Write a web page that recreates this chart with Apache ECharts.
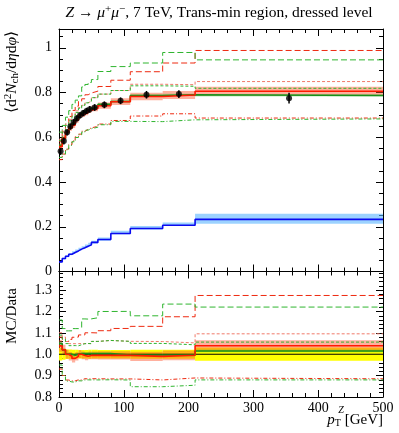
<!DOCTYPE html>
<html>
<head>
<meta charset="UTF-8">
<title>Z mumu Trans-min</title>
<script src="https://cdn.jsdelivr.net/npm/echarts@6.0.0/dist/echarts.min.js"></script>
<style>
  html, body { margin: 0; padding: 0; background: #fff; }
  #main { width: 399px; height: 433px; }
</style>
</head>
<body>
<div id="main"></div>
<script>
// bin edges in pT^Z [GeV]
var edges = [0, 5, 10, 15, 20, 25, 30, 35, 40, 45, 50, 60, 80, 110, 160, 210, 500];

// data
var dataVals = [0.537, 0.583, 0.622, 0.648, 0.667, 0.684, 0.698, 0.708, 0.718, 0.725, 0.733, 0.745, 0.763, 0.790, 0.793, 0.775];
var dataErr  = [0.016, 0.015, 0.014, 0.014, 0.014, 0.014, 0.014, 0.014, 0.014, 0.015, 0.015, 0.015, 0.015, 0.017, 0.017, 0.024];

// MC curves
var mcRed        = [0.558, 0.595, 0.622, 0.642, 0.654, 0.677, 0.698, 0.704, 0.711, 0.721, 0.729, 0.741, 0.759, 0.782, 0.789, 0.806];
var mcRedErr     = [0.015, 0.014, 0.013, 0.013, 0.013, 0.013, 0.013, 0.013, 0.013, 0.013, 0.013, 0.014, 0.015, 0.017, 0.018, 0.020];
var mcGreen      = [0.564, 0.595, 0.622, 0.648, 0.664, 0.684, 0.700, 0.710, 0.720, 0.727, 0.735, 0.747, 0.760, 0.787, 0.790, 0.787];
var mcGreenErr   = [0.005, 0.004, 0.004, 0.004, 0.004, 0.004, 0.004, 0.004, 0.004, 0.004, 0.004, 0.004, 0.004, 0.005, 0.005, 0.005];
var mcRedUp      = [0.580, 0.624, 0.659, 0.693, 0.720, 0.739, 0.761, 0.772, 0.790, 0.798, 0.806, 0.827, 0.855, 0.893, 0.932, 0.988];
var mcGreenUp    = [0.623, 0.653, 0.690, 0.719, 0.747, 0.766, 0.785, 0.825, 0.836, 0.845, 0.858, 0.894, 0.916, 0.932, 0.979, 0.946];
var mcRedMid     = [0.591, 0.630, 0.659, 0.680, 0.700, 0.718, 0.733, 0.743, 0.754, 0.761, 0.777, 0.793, 0.809, 0.837, 0.835, 0.849];
var mcGreenMid   = [0.585, 0.624, 0.653, 0.674, 0.694, 0.711, 0.729, 0.743, 0.754, 0.761, 0.777, 0.793, 0.809, 0.830, 0.828, 0.819];
var mcRedDown    = [0.500, 0.525, 0.547, 0.567, 0.584, 0.602, 0.614, 0.627, 0.635, 0.642, 0.649, 0.659, 0.675, 0.695, 0.705, 0.686];
var mcGreenDown  = [0.510, 0.525, 0.544, 0.564, 0.580, 0.599, 0.611, 0.623, 0.632, 0.638, 0.645, 0.656, 0.671, 0.670, 0.678, 0.682];
var mcBlue       = [0.043, 0.058, 0.068, 0.077, 0.085, 0.092, 0.100, 0.106, 0.113, 0.119, 0.130, 0.143, 0.170, 0.192, 0.207, 0.233];
var mcBlueLo     = [0.040, 0.054, 0.064, 0.073, 0.080, 0.087, 0.095, 0.101, 0.108, 0.114, 0.125, 0.138, 0.166, 0.188, 0.203, 0.213];
var mcBlueHi     = [0.047, 0.062, 0.072, 0.082, 0.090, 0.098, 0.106, 0.113, 0.121, 0.128, 0.138, 0.152, 0.182, 0.203, 0.219, 0.258];

var FONT = '"Liberation Serif", "DejaVu Serif", serif';

function steps(vals) {
    var p = [];
    for (var i = 0; i < vals.length; i++) {
        p.push([edges[i], vals[i]]);
        p.push([edges[i + 1], vals[i]]);
    }
    return p;
}
function ratio(vals) {
    return vals.map(function (v, i) { return v / dataVals[i]; });
}
function plus(a, b, s) {
    return a.map(function (v, i) { return v + s * b[i]; });
}

function band(lo, hi, color, ax, z) {
    return {
        type: 'custom', xAxisIndex: ax, yAxisIndex: ax, z: z, silent: true, clip: true,
        data: lo.map(function (l, i) { return [edges[i], edges[i + 1], l, hi[i]]; }),
        encode: {x: [0, 1], y: [2, 3]},
        renderItem: function (params, api) {
            var a = api.coord([api.value(0), api.value(3)]);
            var b = api.coord([api.value(1), api.value(2)]);
            return {type: 'rect', shape: {x: a[0], y: a[1], width: b[0] - a[0], height: b[1] - a[1]},
                    style: {fill: color}};
        }
    };
}
function line(vals, color, width, dash, ax, z) {
    return {
        type: 'line', xAxisIndex: ax, yAxisIndex: ax, z: z, silent: true,
        showSymbol: false, symbol: 'none', clip: true,
        data: steps(vals),
        lineStyle: {color: color, width: width, type: dash}
    };
}

var red = '#ee2a10', green = '#2fb52f';
var dashLong = [6, 3], dashShort = [3, 2], dashDot = [4, 2, 1, 2];

var series = [
    // top panel
    band(mcBlueLo, mcBlueHi, 'rgba(90,180,255,0.6)', 0, 1),
    band(plus(mcRed, mcRedErr, -1), plus(mcRed, mcRedErr, 1), 'rgba(255,80,40,0.45)', 0, 1),
    band(plus(mcGreen, mcGreenErr, -1), plus(mcGreen, mcGreenErr, 1), 'rgba(60,200,60,0.35)', 0, 1),
    line(mcBlue, '#0a0af0', 1.6, 'solid', 0, 3),
    line(mcRedUp, red, 1, dashLong, 0, 3),
    line(mcGreenUp, green, 1, dashLong, 0, 3),
    line(mcRedMid, '#f07a6a', 1, dashShort, 0, 3),
    line(mcGreenMid, green, 1, dashShort, 0, 3),
    line(mcRedDown, red, 1, dashDot, 0, 3),
    line(mcGreenDown, green, 1, dashDot, 0, 3),
    line(mcGreen, '#1a8f1a', 1.6, 'solid', 0, 4),
    line(mcRed, '#ff1a00', 1.6, 'solid', 0, 4),
    {
        type: 'custom', xAxisIndex: 0, yAxisIndex: 0, z: 6, silent: true,
        data: dataVals.map(function (v, i) { return [(edges[i] + edges[i + 1]) / 2, v - dataErr[i], v + dataErr[i]]; }),
        encode: {x: 0, y: [1, 2]},
        renderItem: function (params, api) {
            var a = api.coord([api.value(0), api.value(1)]);
            var b = api.coord([api.value(0), api.value(2)]);
            return {type: 'line', shape: {x1: a[0], y1: a[1], x2: b[0], y2: b[1]},
                    style: {stroke: '#000', lineWidth: 1.5}};
        }
    },
    {
        type: 'scatter', xAxisIndex: 0, yAxisIndex: 0, z: 7, silent: true,
        symbol: 'circle', symbolSize: 6,
        itemStyle: {color: '#000'},
        data: dataVals.map(function (v, i) { return [(edges[i] + edges[i + 1]) / 2, v]; })
    },
    // ratio panel
    band(ratio(plus(dataVals, dataErr, -1)), ratio(plus(dataVals, dataErr, 1)), '#ffff00', 1, 1),
    band(ratio(plus(mcRed, mcRedErr, -1)), ratio(plus(mcRed, mcRedErr, 1)), 'rgba(255,80,40,0.45)', 1, 2),
    band(ratio(plus(mcGreen, mcGreenErr, -1)), ratio(plus(mcGreen, mcGreenErr, 1)), 'rgba(60,200,60,0.35)', 1, 2),
    line(ratio(dataVals), '#000', 1, 'solid', 1, 3),
    line(ratio(mcRedUp), red, 1, dashLong, 1, 3),
    line(ratio(mcGreenUp), green, 1, dashLong, 1, 3),
    line(ratio(mcRedMid), '#f07a6a', 1, dashShort, 1, 3),
    line(ratio(mcGreenMid), green, 1, dashShort, 1, 3),
    line(ratio(mcRedDown), red, 1, dashDot, 1, 3),
    line(ratio(mcGreenDown), green, 1, dashDot, 1, 3),
    line(ratio(mcGreen), '#1a8f1a', 1.6, 'solid', 1, 4),
    line(ratio(mcRed), '#ff1a00', 1.6, 'solid', 1, 4)
];

function xAx(grid, pos, labels) {
    return {
        type: 'value', gridIndex: grid, position: pos, min: 0, max: 500, interval: 100,
        axisLine: {show: true, onZero: false, lineStyle: {color: '#000', width: 1}},
        axisTick: {show: true, inside: true, length: 7, lineStyle: {color: '#000'}},
        minorTick: {show: true, splitNumber: 5, length: 4, lineStyle: {color: '#000'}},
        splitLine: {show: false},
        axisLabel: {show: labels, margin: 4, color: '#000', fontFamily: FONT, fontSize: 14}
    };
}
function yAx(grid, pos, min, max, step, minorN, labels, fmt) {
    return {
        type: 'value', gridIndex: grid, position: pos, min: min, max: max, interval: step,
        axisLine: {show: true, onZero: false, lineStyle: {color: '#000', width: 1}},
        axisTick: {show: true, inside: true, length: 7, lineStyle: {color: '#000'}},
        minorTick: {show: true, splitNumber: minorN, length: 4, lineStyle: {color: '#000'}},
        splitLine: {show: false},
        axisLabel: {show: labels, margin: 7, color: '#000', fontFamily: FONT, fontSize: 14, formatter: fmt}
    };
}
function onTick(v, step) {
    return Math.abs(v / step - Math.round(v / step)) < 1e-6;
}

var chart = echarts.init(document.getElementById('main'), null, {renderer: 'canvas'});
chart.setOption({
    animation: false,
    backgroundColor: '#fff',
    grid: [
        {left: 59, right: 16, top: 29, height: 242.5},
        {left: 59, right: 16, top: 271.5, height: 125.5}
    ],
    xAxis: [xAx(0, 'bottom', false), xAx(1, 'bottom', true), xAx(0, 'top', false), xAx(1, 'top', false)],
    yAxis: [
        yAx(0, 'left', 0, 1.084, 0.2, 4, true, function (v) { return onTick(v, 0.2) ? String(+v.toFixed(1)) : ''; }),
        yAx(1, 'left', 0.8, 1.387, 0.1, 5, true, function (v) { return onTick(v, 0.1) ? v.toFixed(1) : ''; }),
        yAx(0, 'right', 0, 1.084, 0.2, 4, false),
        yAx(1, 'right', 0.8, 1.387, 0.1, 5, false)
    ],
    series: series,
    graphic: [
        {
            type: 'text', x: 219, y: 13, silent: true,
            style: {
                text: '{i|Z} → {i|μ}{sup|+}{i|μ}{sup|−}, 7 TeV, Trans-min region, dressed level',
                font: '15.5px ' + FONT, fill: '#000', align: 'center', verticalAlign: 'middle',
                rich: {
                    i: {fontStyle: 'italic', fontSize: 15.5, fontFamily: FONT},
                    sup: {fontSize: 11, fontFamily: FONT, padding: [0, 0, 8, 0]}
                }
            }
        },
        {
            type: 'text', x: 12, y: 72, rotation: Math.PI / 2, silent: true,
            style: {
                text: '⟨d{sup|2}{i|N}{sub|ch}/d{i|η}d{i|φ}⟩',
                font: '15.5px ' + FONT, fill: '#000', align: 'center', verticalAlign: 'middle',
                rich: {
                    i: {fontStyle: 'italic', fontSize: 15.5, fontFamily: FONT},
                    sup: {fontSize: 11, fontFamily: FONT, padding: [0, 0, 8, 0]},
                    sub: {fontSize: 11, fontFamily: FONT, padding: [6, 0, 0, 0]}
                }
            }
        },
        {
            type: 'text', x: 12, y: 316, rotation: Math.PI / 2, silent: true,
            style: {text: 'MC/Data', font: '15px ' + FONT, fill: '#000', align: 'center', verticalAlign: 'middle'}
        },
        {
            type: 'text', x: 383, y: 420, silent: true,
            style: {
                text: '{i|p}{sub|T} [GeV]',
                font: '15px ' + FONT, fill: '#000', align: 'right', verticalAlign: 'middle',
                rich: {
                    i: {fontStyle: 'italic', fontSize: 15, fontFamily: FONT},
                    sub: {fontSize: 10, fontFamily: FONT, padding: [6, 0, 0, 0]}
                }
            }
        },
        {
            type: 'text', x: 341, y: 410, silent: true,
            style: {text: 'Z', font: 'italic 10px ' + FONT, fill: '#000', align: 'center', verticalAlign: 'middle'}
        }
    ]
});
</script>
</body>
</html>
